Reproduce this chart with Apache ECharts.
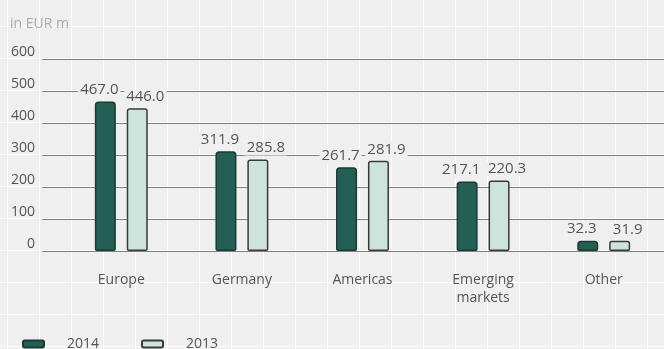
<!DOCTYPE html>
<html>
<head>
<meta charset="utf-8">
<script src="https://cdn.jsdelivr.net/npm/echarts@6/dist/echarts.min.js"></script>
<style>
    html, body { margin: 0; padding: 0; }
    #chart {
        width: 664px;
        height: 349px;
        background-color: #efefef;
        background-image:
            linear-gradient(to right, rgba(255,255,255,0.85) 1.5px, transparent 1.5px),
            linear-gradient(to bottom, rgba(255,255,255,0.85) 1.5px, transparent 1.5px);
        background-size: 32px 32px;
        background-position: 7px 26px;
    }
</style>
</head>
<body>
<div id="chart"></div>
<script>
// data
const categories = ["Europe", "Germany", "Americas", "Emerging\nmarkets", "Other"];
const values2014 = [467.0, 311.9, 261.7, 217.1, 32.3];
const values2013 = [446.0, 285.8, 281.9, 220.3, 31.9];
const yTicks = { min: 0, max: 600, interval: 100 };

const chart = echarts.init(document.getElementById("chart"));
const font = "'Open Sans', 'Noto Sans', sans-serif";
const textColor = "#555";

const valueLabel = (offsetX) => ({
    show: true,
    position: "top",
    distance: 4,
    offset: [offsetX, 0],
    color: textColor,
    fontFamily: font,
    fontSize: 15,
    backgroundColor: "#efefef",
    padding: [0, 2],
    formatter: (p) => p.value.toFixed(1),
});

const option = {
    animation: false,
    textStyle: { fontFamily: font },
    title: {
        text: "in EUR m",
        left: 5,
        top: 12,
        textStyle: {
            color: "#aaa",
            fontSize: 14,
            fontWeight: "normal",
            fontFamily: font,
        },
    },
    legend: {
        left: 17,
        top: 332,
        itemWidth: 21,
        itemHeight: 7,
        itemGap: 42,
        icon: "roundRect",
        textStyle: {
            color: textColor,
            fontSize: 14,
            fontFamily: font,
            padding: [0, 0, 0, 18],
        },
        data: ["2014", "2013"],
    },
    grid: [
        // grid lines
        { left: 42, right: 0, top: 59, height: 192 },
        // bars
        { left: 61, width: 610, top: 59, height: 192 },
    ],
    xAxis: [
        { gridIndex: 0, type: "category", data: [""], show: false },
        {
            gridIndex: 1,
            type: "category",
            data: categories,
            axisLine: { show: false },
            axisTick: { show: false },
            axisLabel: {
                color: textColor,
                fontSize: 14,
                fontFamily: font,
                margin: 20,
                lineHeight: 18,
            },
        },
    ],
    yAxis: [
        {
            gridIndex: 0,
            type: "value",
            min: yTicks.min,
            max: yTicks.max,
            interval: yTicks.interval,
            axisLine: { show: false },
            axisTick: { show: false },
            axisLabel: {
                color: textColor,
                fontSize: 14,
                fontFamily: font,
                margin: 7,
                verticalAlign: "bottom",
            },
            splitLine: { lineStyle: { color: "#808080", width: 1.2 } },
        },
        {
            gridIndex: 1,
            type: "value",
            min: yTicks.min,
            max: yTicks.max,
            interval: yTicks.interval,
            show: false,
            splitLine: { show: false },
        },
    ],
    series: [
        {
            name: "2014",
            type: "bar",
            xAxisIndex: 1,
            yAxisIndex: 1,
            barWidth: 21,
            barGap: "52%",
            data: values2014,
            itemStyle: {
                color: "#245f56",
                borderColor: "#1b3a34",
                borderWidth: 1.5,
                borderRadius: [3, 3, 1, 1],
            },
            label: valueLabel(-6),
            z: 3,
        },
        {
            name: "2013",
            type: "bar",
            xAxisIndex: 1,
            yAxisIndex: 1,
            barWidth: 21,
            data: values2013,
            itemStyle: {
                color: "#cde4dc",
                borderColor: "#3a3a3a",
                borderWidth: 1.5,
                borderRadius: [2, 2, 1, 1],
            },
            label: valueLabel(8),
            z: 3,
        },
    ],
};

chart.setOption(option);
</script>
</body>
</html>
